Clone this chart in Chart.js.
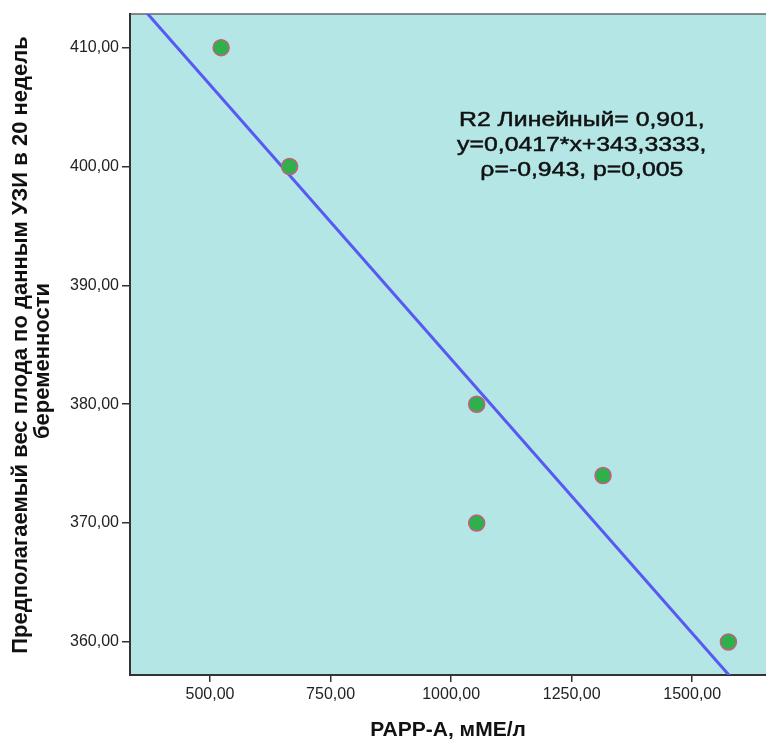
<!DOCTYPE html>
<html>
<head>
<meta charset="utf-8">
<script src="https://cdn.jsdelivr.net/npm/chart.js@4.4.1/dist/chart.umd.min.js"></script>
<style>
  html, body { margin: 0; padding: 0; background: #ffffff; overflow: hidden; }
</style>
</head>
<body>
<canvas id="scatterChart" width="766" height="743"></canvas>
<script>
// values
const pappA = [523, 665, 1053, 1053, 1315, 1575];
const fetalWeight = [410, 400, 380, 370, 374, 360];

// fit line, read at two x values beyond the visible plot
const fitX = [300, 1700];
const fitY = [416.1, 351.5];

const xTicks = [500, 750, 1000, 1250, 1500];
const yTicks = [360, 370, 380, 390, 400, 410];

const yTitleLines = ["Предполагаемый вес плода по данным УЗИ в 20 недель", "беременности"];
const statLines = [
  "R2 Линейный= 0,901,",
  "y=0,0417*x+343,3333,",
  "ρ=-0,943, p=0,005",
];

const fontFamily = "'Liberation Sans', Arial, sans-serif";
const fmt = (v) => v.toFixed(2).replace(".", ",");

// let the plot run right up to the canvas edge like the original
const stretchRight = {
  id: "stretchRight",
  afterLayout(chart) {
    const area = chart.chartArea;
    const x = chart.scales.x;
    const extra = chart.width - area.right;
    if (extra > 0) {
      area.right += extra;
      area.width += extra;
      x.right += extra;
      x.width += extra;
      x.configure();
      x._labelItems = null;
      x._gridLineItems = null;
    }
  },
};

// plot area background + top border
const plotBackground = {
  id: "plotBackground",
  beforeDraw(chart) {
    const { ctx, chartArea: a } = chart;
    ctx.save();
    ctx.fillStyle = "#b4e6e6";
    ctx.fillRect(a.left, a.top, chart.width - a.left, a.bottom - a.top);
    ctx.strokeStyle = "#666666";
    ctx.lineWidth = 1.5;
    ctx.beginPath();
    ctx.moveTo(a.left, a.top);
    ctx.lineTo(chart.width, a.top);
    ctx.stroke();
    ctx.restore();
  },
};

// y title (two lines, rotated) and the R2 / equation text
const textLayer = {
  id: "textLayer",
  afterDraw(chart) {
    const { ctx, scales } = chart;
    ctx.save();
    ctx.fillStyle = "#111111";
    ctx.strokeStyle = "#111111";
    ctx.textAlign = "center";
    ctx.textBaseline = "middle";

    ctx.save();
    ctx.font = "bold 22px " + fontFamily;
    ctx.translate(21, 345);
    ctx.rotate(-Math.PI / 2);
    ctx.fillText(yTitleLines[0], 0, 0);
    ctx.fillText(yTitleLines[1], -16, 22);
    ctx.restore();

    const cx = scales.x.getPixelForValue(1271);
    const cy = scales.y.getPixelForValue(403.9);
    ctx.font = "21px " + fontFamily;
    ctx.lineWidth = 0.5;
    statLines.forEach((line, i) => {
      ctx.save();
      ctx.translate(cx, cy + i * 25);
      ctx.scale(1.18, 1);
      ctx.fillText(line, 0, 0);
      ctx.strokeText(line, 0, 0);
      ctx.restore();
    });
    ctx.restore();
  },
};

const ctx = document.getElementById("scatterChart").getContext("2d");

new Chart(ctx, {
  type: "scatter",
  data: {
    datasets: [
      {
        label: "fit",
        type: "line",
        data: fitX.map((x, i) => ({ x: x, y: fitY[i] })),
        borderColor: "#5858f2",
        borderWidth: 3,
        pointRadius: 0,
        fill: false,
        clip: 0,
        order: 2,
      },
      {
        label: "points",
        data: pappA.map((x, i) => ({ x: x, y: fetalWeight[i] })),
        backgroundColor: "#2eb04a",
        borderColor: "#c0607e",
        borderWidth: 1.5,
        pointRadius: 8,
        order: 1,
      },
    ],
  },
  options: {
    responsive: false,
    animation: false,
    devicePixelRatio: 1,
    layout: { padding: { top: 14, right: 0, left: 0, bottom: 0 } },
    plugins: {
      legend: { display: false },
      tooltip: { enabled: false },
    },
    scales: {
      x: {
        type: "linear",
        min: 334,
        max: 1653,
        afterFit: (scale) => { scale.height = 68; },
        afterBuildTicks: (scale) => { scale.ticks = xTicks.map((v) => ({ value: v })); },
        ticks: {
          includeBounds: false,
          padding: 3,
          color: "#222222",
          font: { family: fontFamily, size: 16 },
          callback: (v) => fmt(v),
        },
        grid: { drawOnChartArea: false, tickLength: 7, color: "#333333", lineWidth: 1.5 },
        border: { color: "#333333", width: 2 },
        title: {
          display: true,
          text: "PAPP-A, мМЕ/л",
          color: "#111111",
          font: { family: fontFamily, size: 21, weight: "bold" },
          padding: { top: 0, bottom: 0 },
        },
      },
      y: {
        type: "linear",
        min: 357.22,
        max: 412.83,
        afterFit: (scale) => { scale.width = 130; },
        afterBuildTicks: (scale) => { scale.ticks = yTicks.map((v) => ({ value: v })); },
        ticks: {
          includeBounds: false,
          padding: 3,
          color: "#222222",
          font: { family: fontFamily, size: 16 },
          callback: (v) => fmt(v),
        },
        grid: { drawOnChartArea: false, tickLength: 8, color: "#333333", lineWidth: 1.5 },
        border: { color: "#333333", width: 2 },
      },
    },
  },
  plugins: [stretchRight, plotBackground, textLayer],
});
</script>
</body>
</html>
